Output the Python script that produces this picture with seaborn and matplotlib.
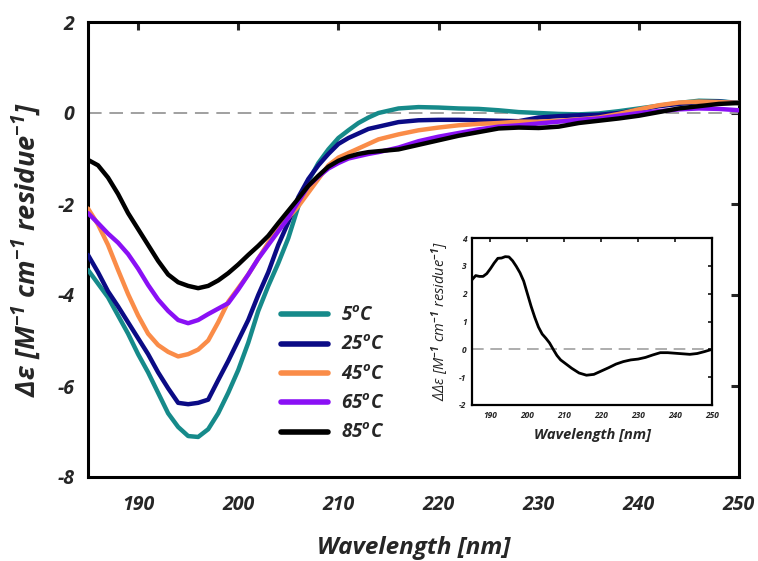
import numpy as np
import pandas as pd
import matplotlib
matplotlib.use("Agg")
import matplotlib.pyplot as plt
import seaborn as sns

# ---------------- data ----------------
wavelength = [185, 186, 187, 188, 189, 190, 191, 192, 193, 194, 195, 196, 197, 198, 199,
              200, 201, 202, 203, 204, 205, 206, 207, 208, 209, 210, 211, 212, 213, 214,
              216, 218, 220, 222, 224, 226, 228, 230, 232, 234, 236, 238, 240, 242, 244,
              246, 248, 250]

cd_5C = [-3.45, -3.75, -4.05, -4.45, -4.85, -5.3, -5.7, -6.15, -6.6, -6.9, -7.1, -7.12, -6.95,
         -6.6, -6.15, -5.65, -5.05, -4.35, -3.8, -3.3, -2.75, -2.05, -1.5, -1.1, -0.8, -0.55,
         -0.38, -0.22, -0.1, 0.0, 0.1, 0.13, 0.12, 0.1, 0.09, 0.06, 0.02, 0.0, -0.02, -0.03,
         -0.01, 0.04, 0.1, 0.16, 0.22, 0.27, 0.26, 0.22]
cd_25C = [-3.12, -3.5, -3.92, -4.25, -4.6, -4.95, -5.3, -5.7, -6.05, -6.37, -6.4, -6.37, -6.3,
          -5.87, -5.45, -5.0, -4.55, -4.0, -3.5, -2.9, -2.4, -1.85, -1.45, -1.15, -0.9, -0.68,
          -0.55, -0.45, -0.35, -0.3, -0.2, -0.16, -0.15, -0.15, -0.16, -0.17, -0.18, -0.1,
          -0.07, -0.05, -0.04, 0.0, 0.07, 0.15, 0.2, 0.24, 0.25, 0.22]
cd_45C = [-2.1, -2.45, -2.9, -3.45, -3.98, -4.45, -4.85, -5.1, -5.25, -5.35, -5.3, -5.2, -5.0,
          -4.6, -4.15, -3.85, -3.55, -3.2, -2.85, -2.55, -2.3, -2.05, -1.75, -1.45, -1.15,
          -0.98, -0.88, -0.78, -0.68, -0.58, -0.47, -0.38, -0.32, -0.27, -0.24, -0.22, -0.19,
          -0.19, -0.17, -0.14, -0.1, -0.02, 0.08, 0.17, 0.23, 0.25, 0.24, 0.22]
cd_65C = [-2.2, -2.42, -2.65, -2.85, -3.1, -3.42, -3.78, -4.1, -4.35, -4.55, -4.62, -4.55, -4.42,
          -4.3, -4.18, -3.88, -3.55, -3.2, -2.9, -2.6, -2.3, -1.95, -1.6, -1.4, -1.22, -1.1,
          -1.0, -0.95, -0.9, -0.86, -0.76, -0.62, -0.52, -0.44, -0.36, -0.3, -0.27, -0.23,
          -0.19, -0.15, -0.12, -0.06, 0.0, 0.04, 0.08, 0.1, 0.09, 0.06]
cd_85C = [-1.03, -1.15, -1.42, -1.78, -2.2, -2.55, -2.9, -3.25, -3.55, -3.72, -3.8, -3.85, -3.8,
          -3.68, -3.52, -3.33, -3.12, -2.92, -2.7, -2.42, -2.15, -1.88, -1.6, -1.38, -1.18,
          -1.05, -0.96, -0.9, -0.86, -0.84, -0.8, -0.7, -0.6, -0.5, -0.42, -0.34, -0.32, -0.33,
          -0.3, -0.22, -0.17, -0.12, -0.06, 0.02, 0.1, 0.15, 0.2, 0.22]

series_labels = ["5$^{\\mathrm{o}}$C", "25$^{\\mathrm{o}}$C", "45$^{\\mathrm{o}}$C",
                 "65$^{\\mathrm{o}}$C", "85$^{\\mathrm{o}}$C"]
series_colors = ["#168a8a", "#0b0b85", "#fa8c48", "#8a10f5", "#000000"]

inset_wavelength = [185, 186, 187, 188, 189, 190, 191, 192, 193, 194, 195, 196, 197, 198, 199,
                    200, 201, 202, 203, 204, 205, 206, 207, 208, 209, 210, 212, 214, 216, 218,
                    220, 222, 224, 226, 228, 230, 232, 234, 236, 238, 240, 242, 244, 246, 248, 250]
inset_ddeps = [2.5, 2.65, 2.62, 2.62, 2.72, 2.9, 3.1, 3.27, 3.28, 3.33, 3.32, 3.18, 2.98, 2.75,
               2.45, 2.0, 1.55, 1.15, 0.8, 0.55, 0.4, 0.23, 0.0, -0.22, -0.38, -0.48, -0.68,
               -0.85, -0.93, -0.9, -0.78, -0.66, -0.53, -0.44, -0.38, -0.35, -0.29, -0.2, -0.12,
               -0.12, -0.14, -0.16, -0.18, -0.15, -0.08, 0.0]

main_xticks = [190, 200, 210, 220, 230, 240, 250]
main_yticks = [-8, -6, -4, -2, 0, 2]
inset_xticks = [190, 200, 210, 220, 230, 240, 250]
inset_yticks = [-2, -1, 0, 1, 2, 3, 4]

# ---------------- style ----------------
sns.set_style("white")
plt.rcParams["font.family"] = ["Open Sans", "DejaVu Sans"]
plt.rcParams["mathtext.fontset"] = "custom"
plt.rcParams["mathtext.rm"] = "Open Sans:italic:bold"
plt.rcParams["mathtext.it"] = "Open Sans:italic:bold"
plt.rcParams["mathtext.bf"] = "Open Sans:italic:bold"

fig = plt.figure(figsize=(7.58, 5.61), dpi=100)
ax = fig.add_axes([88 / 758, 1 - 477 / 561, (739 - 88) / 758, (477 - 22) / 561])

frames = []
for lab, vals in zip(series_labels, [cd_5C, cd_25C, cd_45C, cd_65C, cd_85C]):
    frames.append(pd.DataFrame({"wavelength": wavelength, "cd": vals, "temp": lab}))
df = pd.concat(frames, ignore_index=True)

ax.axhline(0, color="#a0a0a0", lw=1.4, dashes=(7, 4), zorder=1)
sns.lineplot(data=df, x="wavelength", y="cd", hue="temp", hue_order=series_labels,
             palette=series_colors, linewidth=3.2, ax=ax, legend=False, zorder=3)

ax.set_xlim(185, 250)
ax.set_ylim(-8, 2)
ax.set_xticks(main_xticks)
ax.set_yticks(main_yticks)
tick_font = dict(family="Open Sans", weight="bold", style="italic", size=14)
ax.set_xticklabels([str(t) for t in main_xticks], fontdict=tick_font)
ax.set_yticklabels([str(t) for t in main_yticks], fontdict=tick_font)
ax.tick_params(direction="in", length=6, width=2.2, top=True, right=True, pad=10)
ax.tick_params(axis="x", pad=13)
for sp in ax.spines.values():
    sp.set_visible(True)
    sp.set_linewidth(2.2)
    sp.set_color("black")

ax.set_xlabel("Wavelength [nm]", family="Open Sans", weight="bold", style="italic",
              size=17.5, labelpad=15)
ax.set_ylabel("Δε [M$^{-1}$ cm$^{-1}$ residue$^{-1}$]", family="Open Sans", weight="bold",
              style="italic", size=19.5, labelpad=10)

handles = [plt.Line2D([], [], color=c, lw=4.0) for c in series_colors]
leg = ax.legend(handles, series_labels, loc="center left",
                bbox_to_anchor=(281 / 758, 1 - 374.5 / 561), bbox_transform=fig.transFigure,
                frameon=False, borderpad=0, borderaxespad=0, handlelength=2.5,
                handletextpad=0.7, labelspacing=0.5,
                prop=dict(family="Open Sans", weight="bold", style="italic", size=13.5))

# ---------------- inset ----------------
axi = fig.add_axes([472 / 758, 1 - 405 / 561, (712 - 472) / 758, (405 - 238) / 561])
axi.axhline(0, color="#a0a0a0", lw=1.2, dashes=(7, 4), zorder=1)
sns.lineplot(x=inset_wavelength, y=inset_ddeps, color="black", linewidth=2.0, ax=axi, zorder=3)
axi.set_xlim(185, 250)
axi.set_ylim(-2, 4)
axi.set_xticks(inset_xticks)
axi.set_yticks(inset_yticks)
small_font = dict(family="Open Sans", weight="bold", style="italic", size=6)
axi.set_xticklabels([str(t) for t in inset_xticks], fontdict=small_font)
axi.set_yticklabels([str(t) for t in inset_yticks], fontdict=small_font)
axi.tick_params(direction="in", length=3, width=1.3, top=True, right=True, pad=4)
for sp in axi.spines.values():
    sp.set_visible(True)
    sp.set_linewidth(1.6)
    sp.set_color("black")
axi.set_xlabel("Wavelength [nm]", family="Open Sans", weight="bold", style="italic",
               size=10.5, labelpad=6)
axi.set_ylabel("ΔΔε [M$^{-1}$ cm$^{-1}$ residue$^{-1}$]", family="Open Sans",
               style="italic", size=10.5, labelpad=6)

fig.savefig("out.png", dpi=100)
